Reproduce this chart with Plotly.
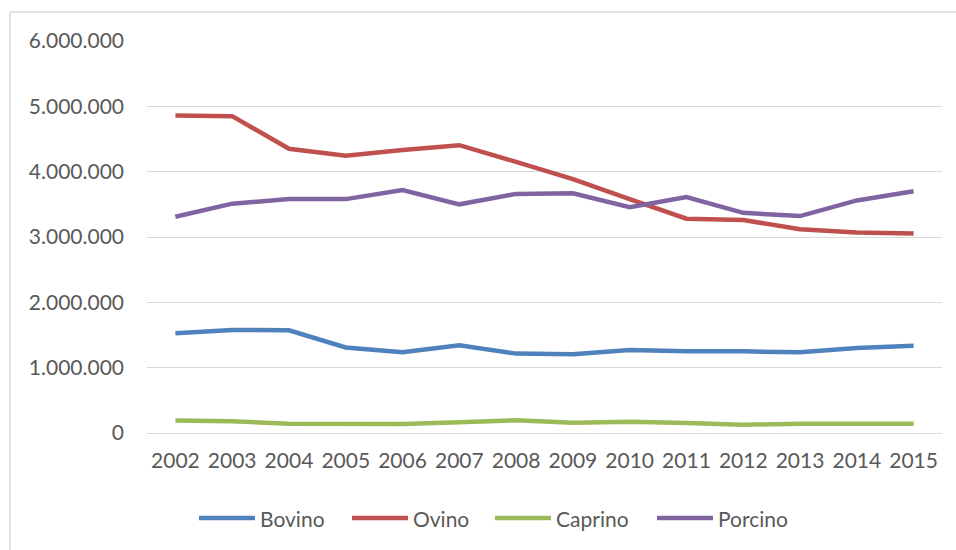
import plotly.graph_objects as go

# Livestock numbers by species, 2002-2015
years = ["2002", "2003", "2004", "2005", "2006", "2007", "2008",
         "2009", "2010", "2011", "2012", "2013", "2014", "2015"]

bovino = [1527000, 1577000, 1573000, 1310000, 1236000, 1343000, 1215000,
          1205000, 1270000, 1250000, 1250000, 1236000, 1300000, 1337000]
ovino = [4860000, 4850000, 4350000, 4245000, 4330000, 4405000, 4150000,
         3885000, 3580000, 3280000, 3260000, 3120000, 3070000, 3055000]
caprino = [190000, 180000, 143000, 133000, 138000, 164000, 194000,
           158000, 173000, 153000, 127000, 142000, 142000, 142000]
porcino = [3310000, 3510000, 3580000, 3580000, 3720000, 3500000, 3660000,
           3670000, 3456000, 3610000, 3370000, 3320000, 3560000, 3700000]

series_names = ["Bovino", "Ovino", "Caprino", "Porcino"]
series_values = [bovino, ovino, caprino, porcino]
series_colors = ["#4F81BD", "#C0504D", "#9BBB59", "#8064A2"]

y_ticks = [0, 1000000, 2000000, 3000000, 4000000, 5000000, 6000000]

FONT = "Lato"
FONT_SIZE = 21
TEXT_COLOR = "#595959"
GRID_COLOR = "#D9D9D9"

fig = go.Figure()
for name, vals, col in zip(series_names, series_values, series_colors):
    fig.add_trace(go.Scatter(
        x=years, y=vals, name=name, mode="lines",
        line=dict(color=col, width=4.5),
        showlegend=False,
    ))

# plot-area geometry (pixels) used to place the frame and legend in paper units
L, R, T, B = 147, 942, 41, 433
W, H = 956, 550
pw, ph = R - L, B - T


def px_x(px):
    return (px - L) / pw


def px_y(py):
    return (B - py) / ph


shapes = [
    # outer chart frame
    dict(type="rect", xref="paper", yref="paper",
         x0=px_x(10), x1=px_x(W + 20), y0=px_y(12), y1=px_y(H + 20),
         line=dict(color="#D9D9D9", width=1.5), fillcolor="rgba(0,0,0,0)",
         layer="below"),
]
annotations = []

# legend row along the bottom
legend_y = px_y(518)
legend_line_x = [199, 352, 495, 657]
legend_line_len = 56
for name, col, lx in zip(series_names, series_colors, legend_line_x):
    shapes.append(dict(type="line", xref="paper", yref="paper",
                       x0=px_x(lx), x1=px_x(lx + legend_line_len),
                       y0=legend_y, y1=legend_y,
                       line=dict(color=col, width=4.5)))
    annotations.append(dict(xref="paper", yref="paper",
                            x=px_x(lx + legend_line_len + 3), y=legend_y,
                            text=name, showarrow=False, xanchor="left",
                            yanchor="middle",
                            font=dict(family=FONT, size=FONT_SIZE, color=TEXT_COLOR)))

fig.update_layout(
    width=W, height=H,
    margin=dict(l=L, r=W - R, t=T, b=H - B, pad=0),
    paper_bgcolor="white", plot_bgcolor="white",
    separators=",.",
    font=dict(family=FONT, size=FONT_SIZE, color=TEXT_COLOR),
    shapes=shapes,
    annotations=annotations,
    xaxis=dict(
        type="category", range=[-0.5, len(years) - 0.5],
        showgrid=False, zeroline=False, showline=False,
        ticks="", ticklabelstandoff=13,
        tickfont=dict(family=FONT, size=FONT_SIZE, color=TEXT_COLOR),
        fixedrange=True,
    ),
    yaxis=dict(
        range=[0, 6000000], tickvals=y_ticks, tickformat=",d",
        showgrid=True, gridcolor=GRID_COLOR, gridwidth=1.3,
        zeroline=True, zerolinecolor=GRID_COLOR, zerolinewidth=1.3,
        showline=False, ticks="", ticklabelstandoff=22,
        tickfont=dict(family=FONT, size=FONT_SIZE, color=TEXT_COLOR),
        fixedrange=True,
    ),
)

fig.write_html("out.html")
